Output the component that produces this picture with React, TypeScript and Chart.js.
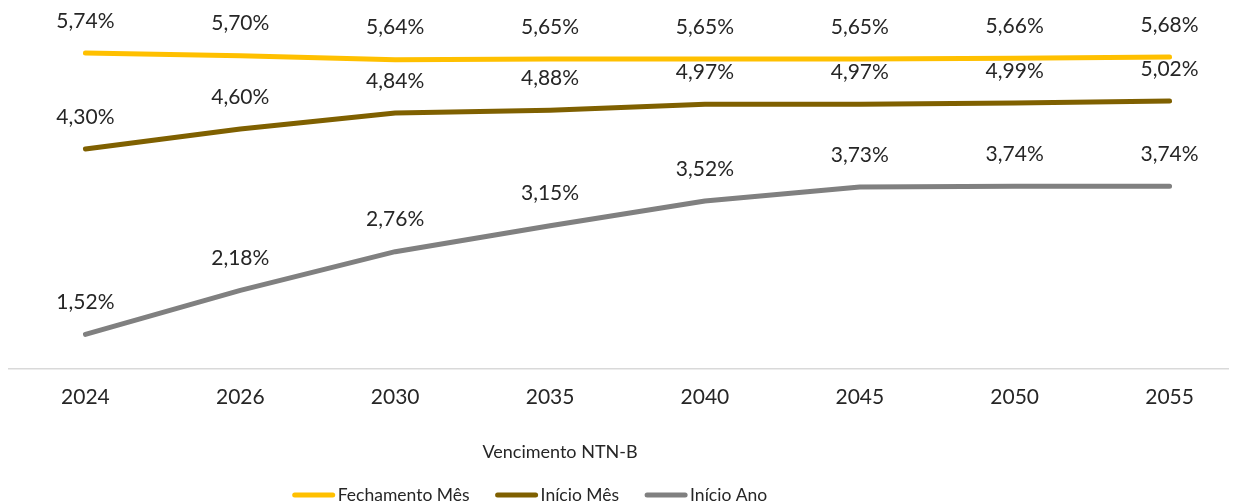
import React, { useEffect, useRef } from "react";
import { Chart, registerables } from "chart.js";

Chart.register(...registerables);

const categories = ["2024", "2026", "2030", "2035", "2040", "2045", "2050", "2055"];
const fechamentoMes = [5.74, 5.70, 5.64, 5.65, 5.65, 5.65, 5.66, 5.68];
const inicioMes = [4.30, 4.60, 4.84, 4.88, 4.97, 4.97, 4.99, 5.02];
const inicioAno = [1.52, 2.18, 2.76, 3.15, 3.52, 3.73, 3.74, 3.74];
const seriesNames = ["Fechamento Mês", "Início Mês", "Início Ano"];
const seriesColors = ["#FFC000", "#7F6000", "#808080"];
const axisTitle = "Vencimento NTN-B";

const FONT = "Lato, 'Open Sans', sans-serif";
const TEXT = "#262626";

const fmt = (v: number) => v.toFixed(2).replace(".", ",") + "%";

const labelPlugin = {
  id: "pointLabels",
  afterDatasetsDraw(chart: any) {
    const ctx = chart.ctx;
    ctx.save();
    ctx.font = `21px ${FONT}`;
    ctx.fillStyle = TEXT;
    ctx.textAlign = "center";
    ctx.textBaseline = "middle";
    chart.data.datasets.forEach((ds: any, i: number) => {
      const meta = chart.getDatasetMeta(i);
      meta.data.forEach((pt: any, j: number) => {
        ctx.fillText(fmt(ds.data[j]), pt.x, pt.y - 32);
      });
    });
    ctx.restore();
  },
};

const bottomPlugin = {
  id: "bottomText",
  afterDraw(chart: any) {
    const ctx = chart.ctx;
    ctx.save();
    ctx.font = `18px ${FONT}`;
    ctx.fillStyle = TEXT;
    ctx.textBaseline = "middle";
    ctx.textAlign = "center";
    ctx.fillText(axisTitle, 552, 444);
    // legend
    ctx.font = `17.5px ${FONT}`;
    const lineW = 42;
    const gap = 3;
    const spacing = 26;
    const widths = chart.data.datasets.map((ds: any) => ctx.measureText(ds.label).width);
    const total = widths.reduce((a: number, w: number) => a + lineW + gap + w, 0) + spacing * (widths.length - 1);
    let x = 522 - total / 2;
    const y = 487;
    ctx.textAlign = "left";
    chart.data.datasets.forEach((ds: any, i: number) => {
      ctx.strokeStyle = ds.borderColor;
      ctx.lineWidth = 5;
      ctx.lineCap = "round";
      ctx.beginPath();
      ctx.moveTo(x + 2, y);
      ctx.lineTo(x + lineW - 2, y);
      ctx.stroke();
      ctx.fillStyle = TEXT;
      ctx.fillText(ds.label, x + lineW + gap, y);
      x += lineW + gap + widths[i] + spacing;
    });
    ctx.restore();
  },
};

export default function App() {
  const ref = useRef<HTMLCanvasElement | null>(null);
  useEffect(() => {
    if (!ref.current) return;
    const seriesData = [fechamentoMes, inicioMes, inicioAno];
    const chart = new Chart(ref.current, {
      type: "line",
      data: {
        labels: categories,
        datasets: seriesNames.map((name, i) => ({
          label: name,
          data: seriesData[i],
          borderColor: seriesColors[i],
          backgroundColor: seriesColors[i],
          borderWidth: 5,
          borderCapStyle: "round",
          borderJoinStyle: "round",
          pointRadius: 0,
          tension: 0,
        })),
      },
      options: {
        responsive: false,
        animation: false,
        layout: { padding: { top: 1, bottom: 0, left: 0, right: 0 } },
        plugins: {
          legend: { display: false },
          tooltip: { enabled: false },
        },
        scales: {
          x: {
            offset: true,
            grid: { display: false, drawTicks: false },
            border: { display: true, color: "#D9D9D9", width: 1.5 },
            ticks: {
              color: TEXT,
              font: { family: FONT, size: 21 },
              padding: 16,
              maxRotation: 0,
            },
            afterFit: (scale: any) => {
              scale.height = 133;
            },
          },
          y: {
            display: false,
            min: 1,
            max: 6.4,
          },
        },
      },
      plugins: [labelPlugin, bottomPlugin],
    } as any);
    return () => chart.destroy();
  }, []);
  return (
    <div style={{ width: 1229, height: 494, overflow: "hidden" }}>
      <canvas ref={ref} width={1239} height={494} style={{ width: 1239, height: 494, display: "block" }} />
    </div>
  );
}
